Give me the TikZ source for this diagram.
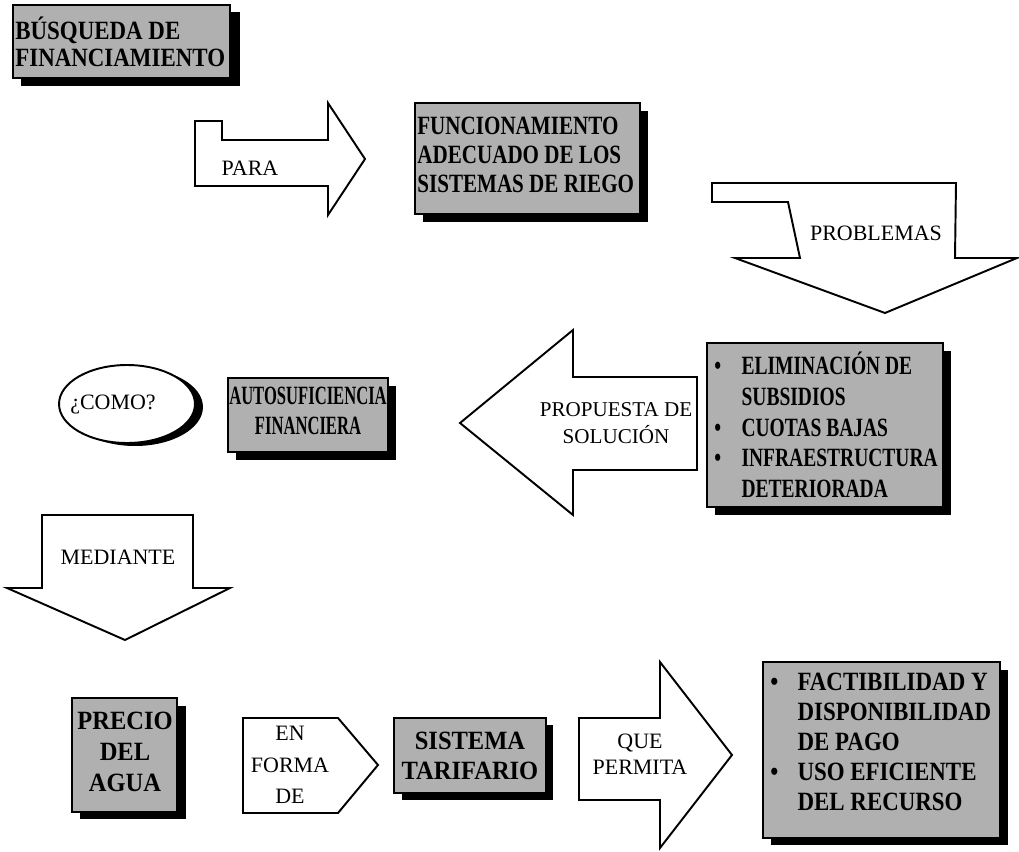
\documentclass[tikz,border=0pt]{standalone}
\usepackage{fontspec}
\setmainfont{Liberation Serif}
% condensed cuts of the serif face for the shaded boxes
\newfontfamily\condA[FakeStretch=0.87]{Liberation Serif}
\newfontfamily\condB[FakeStretch=0.80]{Liberation Serif}
\newfontfamily\condC[FakeStretch=0.74]{Liberation Serif}
\newfontfamily\condD[FakeStretch=0.63]{Liberation Serif}
\newfontfamily\condE[FakeStretch=0.93]{Liberation Serif}
\usetikzlibrary{shapes.geometric}
% bullet and hanging indent for the listed items
\newcommand\bul{\makebox[15.5pt][l]{\textbullet}}
\newcommand\ind{\hspace*{15.5pt}}
\begin{document}
\begin{tikzpicture}[x=0.02cm, y=-0.02cm,
  graybox/.style={draw=black, line width=0.6pt, fill=black!31},
  boxshadow/.style={fill=black},
  blockarrow/.style={draw=black, line width=1.1pt, fill=white, line join=miter},
  boxtext/.style={inner sep=0pt, text=black},
  arrowtext/.style={inner sep=0pt, align=center, font=\fontsize{12.5}{16}\selectfont}]

\fill[white] (0,0) rectangle (1019,852);
\useasboundingbox (0,0) rectangle (1019,852);

% ---- BUSQUEDA DE FINANCIAMIENTO
\fill[boxshadow] (21,12) rectangle (240,86);
\draw[graybox] (13,5) rectangle (230,78);
\node[boxtext, anchor=west, align=left, font=\condA\bfseries\fontsize{15}{15.3}\selectfont]
  (busqueda) at (15,42) {BÚSQUEDA DE\\FINANCIAMIENTO};

% ---- PARA
\draw[blockarrow] (195,121) -- (222,121) -- (222,140) -- (328,140) -- (328,103)
  -- (365,159) -- (328,215) -- (328,186) -- (195,186) -- cycle;
\node[arrowtext] (para) at (250,168) {PARA};

% ---- FUNCIONAMIENTO ADECUADO
\fill[boxshadow] (423,111) rectangle (648,222);
\draw[graybox] (415,103) rectangle (640,214);
\node[boxtext, anchor=west, align=left, font=\condB\bfseries\fontsize{15}{16.4}\selectfont]
  (funcionamiento) at (417,155) {FUNCIONAMIENTO\\ADECUADO DE LOS\\SISTEMAS DE RIEGO};

% ---- PROBLEMAS
\draw[blockarrow] (712,183) -- (956,183) -- (955,258) -- (1017,258) -- (885,313)
  -- (735,258) -- (800,258) -- (788,202) -- (712,202) -- cycle;
\node[arrowtext] (problemas) at (876,233) {PROBLEMAS};

% ---- ELIMINACION DE SUBSIDIOS ...
\fill[boxshadow] (715,351) rectangle (951,515);
\draw[graybox] (707,343) rectangle (943,507);
\node[boxtext, anchor=west, align=left, font=\condC\bfseries\fontsize{15}{17.5}\selectfont]
  (eliminacion) at (714,425) {\bul ELIMINACIÓN DE\\\ind SUBSIDIOS\\\bul CUOTAS BAJAS\\\bul INFRAESTRUCTURA\\\ind DETERIORADA};

% ---- PROPUESTA DE SOLUCION
\draw[blockarrow] (697,377) -- (573,377) -- (573,330) -- (460,423) -- (573,515)
  -- (573,470) -- (697,470) -- cycle;
\node[arrowtext, font=\fontsize{12}{15.5}\selectfont] (propuesta) at (616,423) {PROPUESTA DE\\SOLUCIÓN};

% ---- AUTOSUFICIENCIA FINANCIERA
\fill[boxshadow] (236,386) rectangle (396,460);
\draw[graybox] (228,378) rectangle (388,452);
\node[boxtext, align=center, font=\condD\bfseries\fontsize{15}{17}\selectfont]
  (autosuficiencia) at (308,411) {AUTOSUFICIENCIA\\FINANCIERA};

% ---- COMO
\fill (135,407) ellipse [x radius=1.36cm, y radius=0.78cm];
\node[draw, ellipse, line width=1.1pt, fill=white, minimum width=2.72cm,
  minimum height=1.56cm] (comoshape) at (127,404) {};
\node[arrowtext] (como) at (113,405) {¿COMO?};

% ---- MEDIANTE
\draw[blockarrow] (42,515) -- (193,515) -- (193,588) -- (230,588) -- (125,640)
  -- (7,588) -- (42,588) -- cycle;
\node[arrowtext] (mediante) at (118,557) {MEDIANTE};

% ---- PRECIO DEL AGUA
\fill[boxshadow] (80,706) rectangle (186,819);
\draw[graybox] (72,698) rectangle (177,812);
\node[boxtext, align=center, font=\condE\bfseries\fontsize{15}{17.8}\selectfont]
  (precio) at (125,752) {PRECIO\\DEL\\AGUA};

% ---- EN FORMA DE
\draw[blockarrow] (243,718) -- (338,718) -- (378,765) -- (338,813) -- (243,813) -- cycle;
\node[arrowtext, font=\fontsize{12.5}{18}\selectfont] (enforma) at (290,765) {EN\\FORMA\\DE};

% ---- SISTEMA TARIFARIO
\fill[boxshadow] (402,725) rectangle (553,800);
\draw[graybox] (394,718) rectangle (546,793);
\node[boxtext, align=center, font=\condE\bfseries\fontsize{15}{17.5}\selectfont]
  (sistema) at (470,756) {SISTEMA\\TARIFARIO};

% ---- QUE PERMITA
\draw[blockarrow] (579,718) -- (660,718) -- (660,662) -- (732,755) -- (660,848)
  -- (660,800) -- (579,800) -- cycle;
\node[arrowtext, font=\fontsize{12.5}{14.5}\selectfont] (quepermita) at (640,754) {QUE\\PERMITA};

% ---- FACTIBILIDAD Y DISPONIBILIDAD ...
\fill[boxshadow] (771,670) rectangle (1008,845);
\draw[graybox] (763,662) rectangle (1000,838);
\node[boxtext, anchor=west, align=left, font=\condA\bfseries\fontsize{15}{17}\selectfont]
  (factibilidad) at (770,742) {\bul FACTIBILIDAD Y\\\ind DISPONIBILIDAD\\\ind DE PAGO\\\bul USO EFICIENTE\\\ind DEL RECURSO};

\end{tikzpicture}
\end{document}
